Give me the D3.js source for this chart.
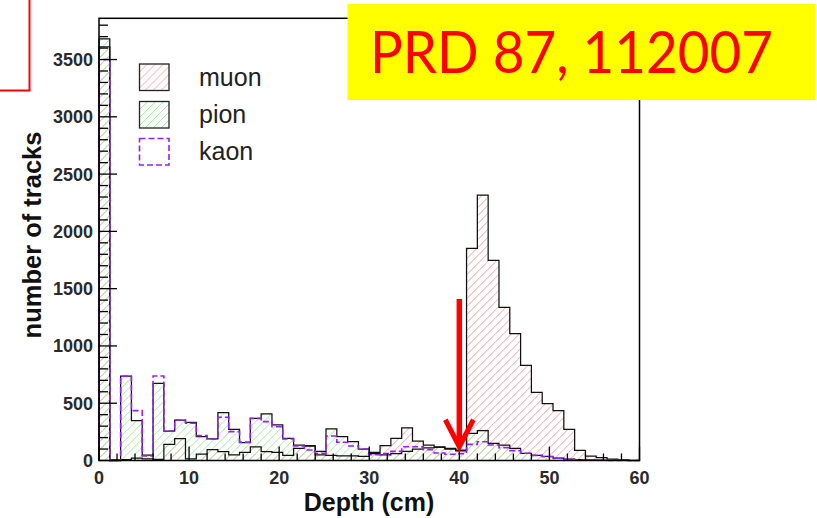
<!DOCTYPE html>
<html>
<head>
<meta charset="utf-8">
<script src="https://cdn.jsdelivr.net/npm/d3@7"></script>
<style>
  html, body { margin: 0; padding: 0; background: #fff; }
  svg { display: block; }
</style>
</head>
<body>
<svg id="chart" width="817" height="518"></svg>
<script>
// ---------------- data ----------------
const binWidth = 1.2;            // cm
const xDomain = [0, 60];
const yDomain = [0, 3860];
const xTickValues = [0, 10, 20, 30, 40, 50, 60];
const yTickValues = [0, 500, 1000, 1500, 2000, 2500, 3000, 3500];
const seriesNames = ["muon", "pion", "kaon"];

const muon = [3610, 5, 8, 20, 15, 10, 140, 190, 15, 55,
              95, 77, 50, 70, 120, 77, 70, 45, 105, 125,
              50, 45, 40, 40, 35, 71, 129, 193, 285, 170,
              135, 120, 100, 85, 1852, 2317, 1747, 1337, 1107, 831,
              595, 496, 435, 272, 89, 39, 25, 13, 5, 2];
const pion = [3680, 0, 737, 348, 48, 673, 257, 353, 333, 208,
              188, 417, 272, 155, 368, 406, 310, 193, 135, 130,
              80, 275, 208, 164, 100, 60, 50, 60, 80, 100,
              110, 115, 105, 90, 237, 260, 150, 135, 106, 63,
              45, 35, 20, 12, 8, 5, 3, 2, 1, 0];
const kaon = [3500, 0, 735, 435, 40, 737, 257, 353, 325, 217,
              188, 377, 252, 160, 368, 339, 295, 188, 127, 92,
              63, 214, 159, 127, 100, 50, 60, 80, 120, 120,
              95, 65, 55, 60, 141, 164, 135, 112, 86, 63,
              45, 33, 20, 10, 5, 3, 2, 1, 0, 0];

const xTitle = "Depth (cm)";
const yTitle = "number of tracks";
const stampText = "PRD 87, 112007";
const arrowDepth = 40, arrowTopVal = 1410, arrowTipVal = 120;

// ---------------- layout ----------------
const svg = d3.select("#chart");
const x = d3.scaleLinear().domain(xDomain).range([99, 639.5]);
const y = d3.scaleLinear().domain(yDomain).range([460.5, 18.3]);
const defs = svg.append("defs");

const RED_HATCH = "#f5a6a6", GREEN_HATCH = "#a6eaa6";

// diagonal "/" hatch lines clipped to an outline
function hatchFill(id, shapeD, box, color) {
  defs.append("clipPath").attr("id", id).append("path").attr("d", shapeD);
  const [x0, y0, x1, y1] = box;
  let d = "";
  for (let c = x0 + y0 - 8; c <= x1 + y1 + 8; c += 8) {
    d += `M${c - y1},${y1}L${c - y0},${y0}`;
  }
  svg.append("g").attr("clip-path", `url(#${id})`)
    .append("path").attr("d", d).attr("stroke", color).attr("stroke-width", 1).attr("fill", "none");
}

function stepPath(vals) {
  let d = `M${x(0)},${y(0)}`;
  vals.forEach((v, i) => {
    d += `L${x(i * binWidth)},${y(v)}L${x((i + 1) * binWidth)},${y(v)}`;
  });
  d += `L${x(vals.length * binWidth)},${y(0)}`;
  return d;
}

const plotBox = [x(0), y(yDomain[1]), x(60), y(0)];
// fills
hatchFill("clipMuon", stepPath(muon) + "Z", plotBox, RED_HATCH);
hatchFill("clipPion", stepPath(pion) + "Z", plotBox, GREEN_HATCH);
// outlines
svg.append("path").attr("d", stepPath(muon)).attr("fill", "none").attr("stroke", "#111").attr("stroke-width", 1.25);
svg.append("path").attr("d", stepPath(pion)).attr("fill", "none").attr("stroke", "#111").attr("stroke-width", 1.25);
svg.append("path").attr("d", stepPath(kaon)).attr("fill", "none").attr("stroke", "#9b1cff")
  .attr("stroke-width", 1.6).attr("stroke-dasharray", "6,3");

// frame
svg.append("rect").attr("x", x(0)).attr("y", y(yDomain[1]))
  .attr("width", x(60) - x(0)).attr("height", y(0) - y(yDomain[1]))
  .attr("fill", "none").attr("stroke", "#000").attr("stroke-width", 1.5);

// y axis ticks (inside)
const yAxis = svg.append("g");
d3.range(0, yDomain[1], 100).forEach(v => {
  const major = v % 500 === 0;
  yAxis.append("line").attr("x1", x(0)).attr("x2", x(0) + (major ? 18 : 9))
    .attr("y1", y(v)).attr("y2", y(v)).attr("stroke", "#000").attr("stroke-width", 1.3);
});
yAxis.selectAll("text.yl").data(yTickValues).join("text")
  .attr("x", 93).attr("y", d => y(d)).attr("dy", "0.36em")
  .attr("text-anchor", "end").attr("font-family", "Liberation Sans, Arial, sans-serif")
  .attr("font-weight", "bold").attr("font-size", 18).attr("fill", "#2a2a2a").text(d => d);

// x axis ticks (inside)
const xAxis = svg.append("g");
d3.range(0, 60.1, 2).forEach(v => {
  const major = v % 10 === 0;
  xAxis.append("line").attr("x1", x(v)).attr("x2", x(v))
    .attr("y1", y(0)).attr("y2", y(0) - (major ? 14 : 7)).attr("stroke", "#000").attr("stroke-width", 1.3);
});
xAxis.selectAll("text.xl").data(xTickValues).join("text")
  .attr("x", d => x(d)).attr("y", 484)
  .attr("text-anchor", "middle").attr("font-family", "Liberation Sans, Arial, sans-serif")
  .attr("font-weight", "bold").attr("font-size", 18).attr("fill", "#2a2a2a").text(d => d);

// titles
svg.append("text").attr("x", 369).attr("y", 510.5).attr("text-anchor", "middle")
  .attr("font-family", "Liberation Sans, Arial, sans-serif").attr("font-weight", "bold")
  .attr("font-size", 25).attr("fill", "#111").text(xTitle);
svg.append("text").attr("transform", "translate(41,235) rotate(-90)").attr("text-anchor", "middle")
  .attr("font-family", "Liberation Sans, Arial, sans-serif").attr("font-weight", "bold")
  .attr("font-size", 25.5).attr("fill", "#111").text(yTitle);

// legend
const legendY = [64, 101.5, 138.5];
seriesNames.forEach((name, i) => {
  const bx = 139.5, by = legendY[i], bw = 29.5, bh = 26.5;
  const boxD = `M${bx},${by}h${bw}v${bh}h${-bw}Z`;
  if (name === "muon") hatchFill("clipLegMuon", boxD, [bx, by, bx + bw, by + bh], RED_HATCH);
  if (name === "pion") hatchFill("clipLegPion", boxD, [bx, by, bx + bw, by + bh], GREEN_HATCH);
  const r = svg.append("rect").attr("x", bx).attr("y", by).attr("width", bw).attr("height", bh).attr("fill", "none");
  if (name === "kaon") r.attr("stroke", "#9b1cff").attr("stroke-width", 1.6).attr("stroke-dasharray", "6,3");
  else r.attr("stroke", "#222").attr("stroke-width", 1.3);
  svg.append("text").attr("x", 199).attr("y", by + 21.5)
    .attr("font-family", "Liberation Sans, Arial, sans-serif").attr("font-size", 25)
    .attr("fill", "#222").text(name);
});

// arrow annotation
const ax = x(arrowDepth), aTop = y(arrowTopVal), aTip = y(arrowTipVal);
svg.append("line").attr("x1", ax).attr("x2", ax).attr("y1", aTop).attr("y2", aTip - 3)
  .attr("stroke", "#ff0000").attr("stroke-width", 5.5);
svg.append("path").attr("d", `M${ax - 14},${aTip - 27} L${ax},${aTip} L${ax + 14},${aTip - 27}`)
  .attr("fill", "none").attr("stroke", "#ff0000").attr("stroke-width", 5).attr("stroke-linejoin", "miter");

// stamp box
svg.append("rect").attr("x", 347.5).attr("y", 4).attr("width", 468).attr("height", 96).attr("fill", "#ffff00");
svg.append("text").attr("x", 370).attr("y", 73).attr("font-family", "Lato, 'Open Sans', sans-serif")
  .attr("font-size", 58).attr("fill", "#ff0000").attr("textLength", 403).attr("lengthAdjust", "spacingAndGlyphs")
  .text(stampText);

// partial red box at top-left
svg.append("rect").attr("x", -10).attr("y", -10).attr("width", 39.5).attr("height", 100.5)
  .attr("fill", "none").attr("stroke", "#ff0000").attr("stroke-width", 2);
</script>
</body>
</html>
